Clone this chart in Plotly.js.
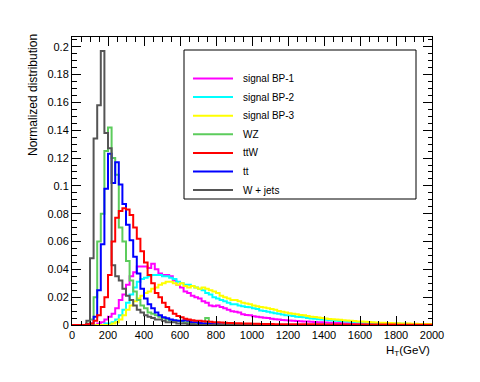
<!DOCTYPE html>
<html>
<head>
<meta charset="utf-8">
<script src="https://cdn.plot.ly/plotly-3.0.1.min.js"></script>
<style>html,body{margin:0;padding:0;background:#fff;}#chart{width:480px;height:382px;}</style>
</head>
<body>
<div id="chart"></div>
<script>
// H_T histogram: 100 bins of 20 GeV from 0 to 2000 GeV
var binWidth = 20;

var seriesNames = ["signal BP-1", "signal BP-2", "signal BP-3", "WZ", "ttW", "tt", "W + jets"];
var seriesColors = ["#ff00ff", "#00ffff", "#ffff00", "#5ccc5c", "#ff0000", "#0000ff", "#555555"];

var bp1 = [0,0,0,0,0,0,0,0.001,0.002,0.004,
  0.006,0.008,0.012,0.018,0.022,0.029,0.035,0.038,0.042,0.042,
  0.042,0.041,0.044,0.040,0.037,0.036,0.036,0.035,0.032,0.029,
  0.027,0.024,0.023,0.021,0.020,0.019,0.017,0.016,0.014,0.0135,
  0.014,0.013,0.012,0.011,0.0098,0.0095,0.009,0.0078,0.0072,0.007,
  0.0062,0.006,0.0055,0.0052,0.005,0.0045,0.0042,0.004,0.0036,0.0034,
  0.0032,0.003,0.0029,0.0027,0.0026,0.0025,0.0023,0.0022,0.002,0.0019,
  0.0018,0.0017,0.0016,0.0015,0.0014,0.0013,0.0013,0.0012,0.0011,0.001,
  0.001,0.0009,0.0009,0.0008,0.0008,0.0007,0.0007,0.0006,0.0006,0.0006,
  0.0005,0.0005,0.0004,0.0004,0.0004,0.0003,0.0003,0.0003,0.0003,0.0002];

var bp2 = [0,0,0,0,0,0,0,0,0,0.001,
  0.001,0.002,0.004,0.007,0.011,0.016,0.022,0.027,0.031,0.033,
  0.034,0.035,0.036,0.036,0.036,0.035,0.035,0.034,0.033,0.031,
  0.030,0.029,0.029,0.028,0.027,0.026,0.025,0.023,0.022,0.020,
  0.019,0.018,0.017,0.016,0.015,0.015,0.014,0.0135,0.013,0.0127,
  0.012,0.0115,0.0105,0.010,0.0095,0.009,0.0085,0.008,0.0075,0.007,
  0.0068,0.0065,0.006,0.0057,0.0055,0.005,0.0047,0.0045,0.0042,0.004,
  0.0037,0.0035,0.0032,0.003,0.0028,0.0027,0.0025,0.0023,0.0022,0.002,
  0.0019,0.0018,0.0017,0.0016,0.0015,0.0014,0.0013,0.0012,0.0011,0.001,
  0.001,0.0009,0.0009,0.0008,0.0008,0.0007,0.0007,0.0006,0.0006,0.0005];

var bp3 = [0,0,0,0,0,0,0,0,0,0,
  0,0.001,0.002,0.004,0.007,0.011,0.014,0.017,0.019,0.021,
  0.023,0.024,0.026,0.027,0.029,0.030,0.031,0.031,0.030,0.029,
  0.030,0.028,0.027,0.028,0.027,0.026,0.027,0.026,0.025,0.024,
  0.023,0.021,0.020,0.019,0.018,0.018,0.017,0.016,0.0155,0.015,
  0.014,0.0135,0.013,0.0125,0.012,0.0115,0.011,0.010,0.0095,0.009,
  0.0085,0.008,0.0078,0.0072,0.007,0.0065,0.006,0.0057,0.0054,0.005,
  0.0047,0.0044,0.0042,0.004,0.0037,0.0035,0.0033,0.003,0.0028,0.0026,
  0.0025,0.0023,0.0021,0.002,0.0018,0.0017,0.0016,0.0015,0.0014,0.0013,
  0.0012,0.0011,0.001,0.001,0.0009,0.0009,0.0008,0.0008,0.0007,0.0007];

var wz = [0,0,0,0,0.001,0.004,0.020,0.060,0.080,0.125,
  0.142,0.120,0.108,0.070,0.060,0.046,0.032,0.024,0.018,0.014,
  0.012,0.009,0.008,0.007,0.006,0.005,0.004,0.0035,0.003,0.003,
  0.0025,0.002,0.002,0.0015,0.0015,0.001,0.001,0.005,0.001,0.0005,
  0.0005,0.0005,0,0.0005,0,0,0.0005,0,0,0,
  0,0,0,0,0,0,0,0,0,0,
  0,0,0,0,0,0,0,0,0,0,
  0,0,0,0,0,0,0,0,0,0,
  0,0,0,0,0,0,0,0,0,0,
  0,0,0,0,0,0,0,0,0,0];

var ttw = [0,0,0,0,0.0005,0.001,0.003,0.007,0.013,0.020,
  0.036,0.060,0.077,0.082,0.084,0.083,0.079,0.070,0.062,0.053,
  0.045,0.036,0.030,0.023,0.020,0.016,0.013,0.0105,0.008,0.0065,
  0.0055,0.0045,0.004,0.0035,0.003,0.003,0.0027,0.0025,0.0023,0.002,
  0.002,0.0018,0.0016,0.0015,0.0014,0.0013,0.0012,0.0011,0.001,0.001,
  0.0009,0.0009,0.0008,0.0008,0.0007,0.0007,0.0006,0.0006,0.0006,0.0005,
  0.0005,0.0005,0.0005,0.0005,0.0005,0.0005,0.0005,0.0005,0.0005,0.0005,
  0.0004,0.0004,0.0004,0.0004,0.0004,0.0004,0.0004,0.0004,0.0004,0.0004,
  0.0003,0.0003,0.0003,0.0003,0.0003,0.0003,0.0003,0.0003,0.0003,0.0003,
  0.0002,0.0002,0.0002,0.0002,0.0002,0.0002,0.0002,0.0002,0.0002,0.0002];

var tt = [0,0,0,0,0.0005,0.001,0.006,0.025,0.058,0.098,
  0.123,0.102,0.117,0.101,0.087,0.072,0.061,0.049,0.037,0.026,
  0.019,0.015,0.012,0.009,0.007,0.0055,0.0048,0.004,0.0035,0.003,
  0.003,0.0035,0.003,0.002,0.002,0.0015,0.001,0.001,0.0008,0.0005,
  0.0005,0.0003,0.0003,0,0,0,0,0,0,0,
  0,0,0,0,0,0,0,0,0,0,
  0,0,0,0,0,0,0,0,0,0,
  0,0,0,0,0,0,0,0,0,0,
  0,0,0,0,0,0,0,0,0,0,
  0,0,0,0,0,0,0,0,0,0];

var wjets = [0,0,0,0,0.003,0.048,0.134,0.158,0.197,0.138,
  0.127,0.043,0.035,0.032,0.026,0.021,0.018,0.014,0.011,0.009,
  0.007,0.006,0.005,0.004,0.004,0.003,0.002,0.002,0.002,0.001,
  0.001,0.001,0.0005,0.0005,0,0,0,0,0,0,
  0,0,0,0,0,0,0,0,0,0,
  0,0,0,0,0,0,0,0,0,0,
  0,0,0,0,0,0,0,0,0,0,
  0,0,0,0,0,0,0,0,0,0,
  0,0,0,0,0,0,0,0,0,0,
  0,0,0,0,0,0,0,0,0,0];

var seriesValues = [bp1, bp2, bp3, wz, ttw, tt, wjets];
var drawOrder = [0, 1, 2, 3, 5, 6, 4];

function stepTrace(vals, color, name) {
  var xs = [0], ys = [0];
  for (var k = 0; k < vals.length; k++) { xs.push(k * binWidth); ys.push(vals[k]); }
  xs.push(vals.length * binWidth); ys.push(vals[vals.length - 1]);
  xs.push(vals.length * binWidth); ys.push(0);
  return {x: xs, y: ys, type: 'scatter', mode: 'lines', name: name,
          line: {shape: 'hv', color: color, width: 2}, hoverinfo: 'skip', showlegend: false};
}

var traces = drawOrder.map(function (i) { return stepTrace(seriesValues[i], seriesColors[i], seriesNames[i]); });

var L = 72, R = 432, T = 37, B = 325;
function px(x) { return (x - L) / (R - L); }
function py(y) { return (B - y) / (B - T); }

var shapes = [{type: 'rect', xref: 'paper', yref: 'paper', x0: px(184), x1: px(416), y0: py(199), y1: py(50),
  line: {color: '#000', width: 1}, fillcolor: '#fff', layer: 'above'}];
var annotations = [];
for (var i = 0; i < seriesNames.length; i++) {
  var yy = 78.5 + i * 18.6;
  shapes.push({type: 'line', xref: 'paper', yref: 'paper', x0: px(193), x1: px(233), y0: py(yy), y1: py(yy),
    line: {color: seriesColors[i], width: 2}, layer: 'above'});
  annotations.push({xref: 'paper', yref: 'paper', x: px(241), y: py(yy), xanchor: 'left', yanchor: 'middle',
    text: seriesNames[i], showarrow: false, font: {family: 'Liberation Sans, Arial, sans-serif', size: 10, color: '#000'}});
}
annotations.push({xref: 'paper', yref: 'paper', x: px(33), y: py(32), xanchor: 'center', yanchor: 'top', textangle: -90,
  text: 'Normalized distribution', showarrow: false, font: {family: 'Liberation Sans, Arial, sans-serif', size: 12, color: '#000'}});
annotations.push({xref: 'paper', yref: 'paper', x: 1, y: py(351), xanchor: 'right', yanchor: 'middle',
  text: 'H<sub>T</sub>(GeV)', showarrow: false, font: {family: 'Liberation Sans, Arial, sans-serif', size: 11.5, color: '#000'}});

var axisFont = {family: 'Liberation Sans, Arial, sans-serif', size: 11, color: '#000'};
var layout = {
  width: 480, height: 382,
  margin: {l: L, r: 480 - R, t: T, b: 382 - B, pad: 0},
  paper_bgcolor: '#fff', plot_bgcolor: '#fff',
  showlegend: false,
  xaxis: {range: [0, 2000], tick0: 0, dtick: 200, ticks: 'inside', ticklen: 9, tickwidth: 1, tickcolor: '#000',
    showline: true, linecolor: '#000', linewidth: 1, mirror: 'ticks', showgrid: false, zeroline: false,
    tickfont: axisFont, minor: {dtick: 50, ticks: 'inside', ticklen: 4.5, tickcolor: '#000', showgrid: false}},
  yaxis: {range: [0, 0.207], tick0: 0, dtick: 0.02, ticks: 'inside', ticklen: 9, tickwidth: 1, tickcolor: '#000',
    showline: true, linecolor: '#000', linewidth: 1, mirror: 'ticks', showgrid: false, zeroline: false,
    tickfont: axisFont, minor: {dtick: 0.005, ticks: 'inside', ticklen: 4.5, tickcolor: '#000', showgrid: false}},
  shapes: shapes,
  annotations: annotations
};

Plotly.newPlot('chart', traces, layout, {staticPlot: true, displayModeBar: false});
</script>
</body>
</html>
